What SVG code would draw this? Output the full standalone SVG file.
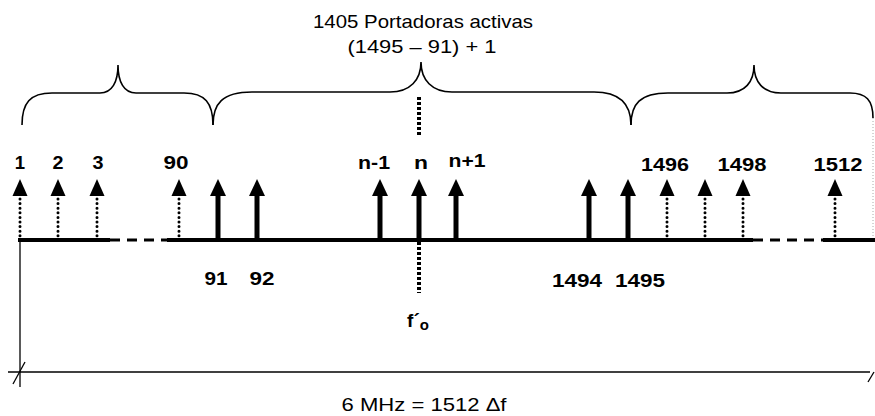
<svg xmlns="http://www.w3.org/2000/svg" width="875" height="416" viewBox="0 0 875 416">
<defs>
<style>
.lbl{font-family:"Liberation Sans",Arial,sans-serif;font-weight:bold;font-size:18.5px;fill:#000;text-anchor:middle}
.reg{font-family:"Liberation Sans",Arial,sans-serif;font-size:18.5px;fill:#000;text-anchor:middle}
.brace{fill:none;stroke:#000;stroke-width:1.6}
.base{stroke:#000;stroke-width:4;fill:none}
.dash{stroke:#000;stroke-width:3;stroke-dasharray:10 7;fill:none}
.dot{stroke:#000;stroke-width:3;stroke-linecap:round;stroke-dasharray:0 4.6;fill:none}
.sq{stroke:#000;stroke-width:4;stroke-dasharray:3 2;fill:none}
.shaft{stroke:#000;stroke-width:5;fill:none}
.thin{stroke:#000;stroke-width:1.3;fill:none}
</style>
</defs>
<rect width="875" height="416" fill="#fff"/>

<g id="title">
<text class="reg" x="423" y="28" textLength="220" lengthAdjust="spacingAndGlyphs">1405 Portadoras activas</text>
<text class="reg" x="422" y="53" textLength="149" lengthAdjust="spacingAndGlyphs">(1495 – 91) + 1</text>
</g>

<g id="braces">
<path class="brace" d="M22,125 C22,103 30,93 52,93 L100,93 C112,93 118,82 118,65 C118,82 124,93 136,93 L184,93 C205,93 213,103 213,125"/>
<path class="brace" d="M213,125 C213,104 222,92 252,92 L390,92 C410,92 421,80 421,62 C421,80 432,92 452,92 L594,92 C620,92 631,104 631,125"/>
<path class="brace" d="M631,125 C631,104 640,93 668,93 L727,93 C745,93 754,82 754,65 C754,82 763,93 781,93 L850,93 C866,93 873,100 873,118"/>
<line x1="873" y1="118" x2="873" y2="240" stroke="#aaa" stroke-width="1" stroke-dasharray="1 2"/>
</g>

<g id="connectors">
<line class="base" x1="18" y1="240" x2="110" y2="240"/>
<line class="dash" x1="110" y1="240" x2="167" y2="240"/>
<line class="base" x1="167" y1="240" x2="753" y2="240"/>
<line class="dash" x1="753" y1="240" x2="823" y2="240"/>
<line class="base" x1="823" y1="240" x2="875" y2="240"/>
<line class="sq" x1="419" y1="97" x2="419" y2="136"/>
<line class="sq" x1="419" y1="242" x2="419" y2="293"/>
<line class="thin" x1="20" y1="242" x2="20" y2="387"/>
<line class="thin" x1="8" y1="372" x2="870" y2="372"/>
<line class="thin" x1="13" y1="384" x2="25" y2="362"/>
<line class="thin" x1="868" y1="382" x2="874" y2="372"/>
</g>

<g id="dotted-carriers">
<g id="c1"><line class="dot" x1="20" y1="199" x2="20" y2="236"/><polygon points="12.5,196 20,179 27.5,196"/></g>
<g id="c2"><line class="dot" x1="58" y1="199" x2="58" y2="236"/><polygon points="50.5,196 58,179 65.5,196"/></g>
<g id="c3"><line class="dot" x1="97" y1="199" x2="97" y2="236"/><polygon points="89.5,196 97,179 104.5,196"/></g>
<g id="c90"><line class="dot" x1="179" y1="199" x2="179" y2="236"/><polygon points="171.5,196 179,179 186.5,196"/></g>
<g id="c1496"><line class="dot" x1="667" y1="199" x2="667" y2="236"/><polygon points="659.5,196 667,179 674.5,196"/></g>
<g id="c1497"><line class="dot" x1="705" y1="199" x2="705" y2="236"/><polygon points="697.5,196 705,179 712.5,196"/></g>
<g id="c1498"><line class="dot" x1="743" y1="199" x2="743" y2="236"/><polygon points="735.5,196 743,179 750.5,196"/></g>
<g id="c1512"><line class="dot" x1="835" y1="199" x2="835" y2="236"/><polygon points="827.5,196 835,179 842.5,196"/></g>
</g>

<g id="active-carriers">
<g id="a91"><line class="shaft" x1="218" y1="194" x2="218" y2="240"/><polygon points="210,196 218,179 226,196"/></g>
<g id="a92"><line class="shaft" x1="257" y1="194" x2="257" y2="240"/><polygon points="249,196 257,179 265,196"/></g>
<g id="an1"><line class="shaft" x1="380" y1="194" x2="380" y2="240"/><polygon points="372,196 380,179 388,196"/></g>
<g id="an"><line class="shaft" x1="419" y1="194" x2="419" y2="240"/><polygon points="411,196 419,179 427,196"/></g>
<g id="an2"><line class="shaft" x1="456" y1="194" x2="456" y2="240"/><polygon points="448,196 456,179 464,196"/></g>
<g id="a1494"><line class="shaft" x1="589" y1="194" x2="589" y2="240"/><polygon points="581,196 589,179 597,196"/></g>
<g id="a1495"><line class="shaft" x1="628" y1="194" x2="628" y2="240"/><polygon points="620,196 628,179 636,196"/></g>
</g>

<g id="labels">
<text class="lbl" x="20" y="169">1</text>
<text class="lbl" x="58" y="169" textLength="11" lengthAdjust="spacingAndGlyphs">2</text>
<text class="lbl" x="98" y="169" textLength="11" lengthAdjust="spacingAndGlyphs">3</text>
<text class="lbl" x="176" y="169" textLength="25" lengthAdjust="spacingAndGlyphs">90</text>
<text class="lbl" x="374" y="169" textLength="32" lengthAdjust="spacingAndGlyphs">n-1</text>
<text class="lbl" x="421" y="169" textLength="14" lengthAdjust="spacingAndGlyphs">n</text>
<text class="lbl" x="467" y="167" textLength="37" lengthAdjust="spacingAndGlyphs">n+1</text>
<text class="lbl" x="665" y="171" textLength="48" lengthAdjust="spacingAndGlyphs">1496</text>
<text class="lbl" x="742" y="171" textLength="49" lengthAdjust="spacingAndGlyphs">1498</text>
<text class="lbl" x="838" y="171" textLength="49" lengthAdjust="spacingAndGlyphs">1512</text>
<text class="lbl" x="216" y="285" textLength="23" lengthAdjust="spacingAndGlyphs">91</text>
<text class="lbl" x="262" y="285" textLength="25" lengthAdjust="spacingAndGlyphs">92</text>
<text class="lbl" x="577" y="287" textLength="50" lengthAdjust="spacingAndGlyphs">1494</text>
<text class="lbl" x="640" y="287" textLength="50" lengthAdjust="spacingAndGlyphs">1495</text>
<text class="lbl" x="418" y="327" style="font-size:19px">f´<tspan dy="3" style="font-size:15px">o</tspan></text>
<text class="reg" x="424" y="411" textLength="165" lengthAdjust="spacingAndGlyphs">6 MHz = 1512 Δf</text>
</g>
</svg>
